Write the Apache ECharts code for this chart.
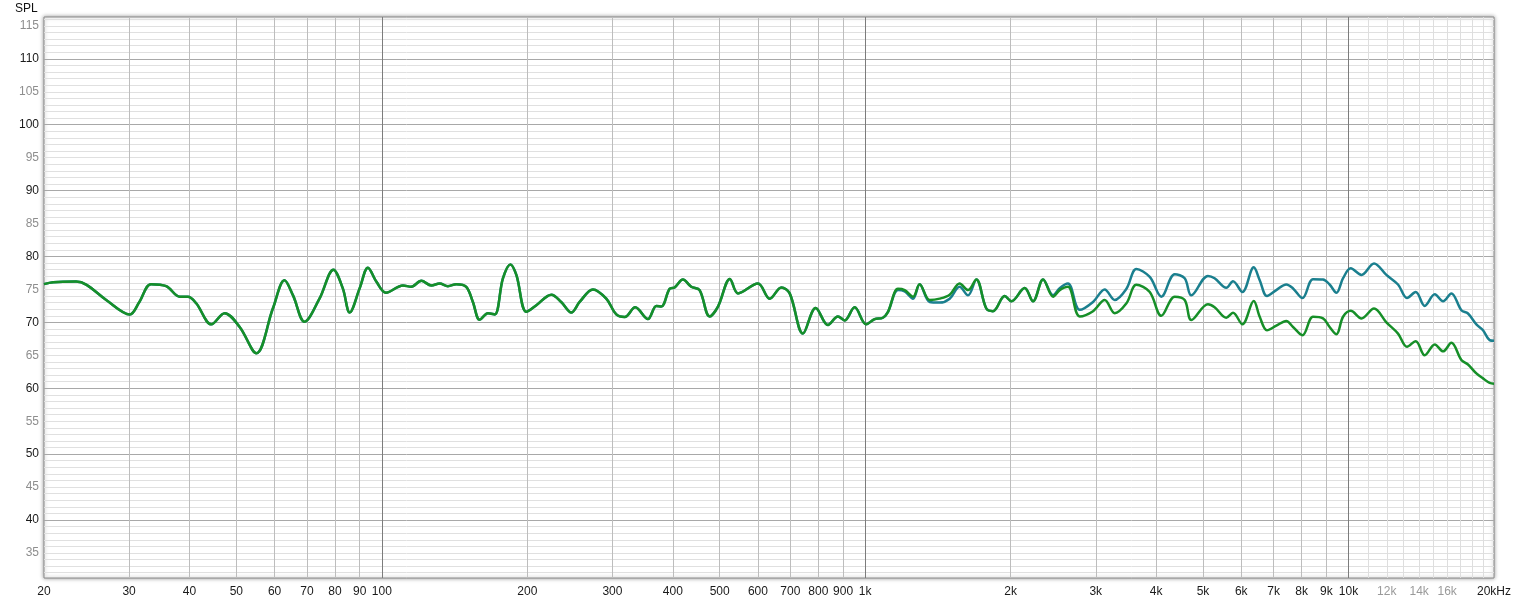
<!DOCTYPE html>
<html><head><meta charset="utf-8">
<script src="https://cdn.jsdelivr.net/npm/echarts@6/dist/echarts.min.js"></script>
<style>html,body{margin:0;padding:0;background:#fff}#c{width:1516px;height:603px}</style>
</head><body><div id="c"></div><script>
// Frequencies (Hz) of the sampled points
const freqHz = [20,20.9,23.3,24.5,26.9,30.1,31.5,33.3,35.8,38.2,39.7,41.3,44.4,47.3,50.8,55,59.5,62.9,65.5,69.2,74.3,79.4,83,85.8,90,93.6,97.4,102,110.6,115,120.7,126.6,131.7,137,142.6,149.5,154.3,159.4,165.8,171.2,178.1,184.5,189.8,199.1,208.8,224.3,235,246.6,256.6,273.4,291.3,305.6,318,334.4,355.2,369.8,378.6,394,403.4,419.7,436.7,454.4,476.6,496,525,545.6,600,634.5,671,698,743.6,790,837.5,878.4,907,951,1005,1046,1088,1115,1169,1207,1256,1296,1360,1426,1496,1568,1632,1698,1781,1838,1944,2006,2138,2225,2334,2448,2526,2628,2779,2961,3130,3284,3472,3640,3880,4100,4370,4582,4730,5119,5284,5588,5768,6032,6367,6551,6782,7090,7436,7678,8030,8444,8856,9140,9440,9744,10106,10636,11293,11977,12661,13213,13774,14380,15085,15690,16324,17120,17670,18390,18980,19590,20000];
// SPL (dB) of the upper (teal) trace
const tealSPL = [75.8,76.1,76.2,75.7,73.4,71.2,73.1,75.8,75.5,73.9,73.9,72.9,69.7,71.4,69.3,65.3,72.1,76.4,74.1,70.1,73.6,78.0,75.2,71.5,75.2,78.3,76.2,74.5,75.6,75.4,76.3,75.6,75.9,75.5,75.8,75.4,73.1,70.4,71.4,71.2,76.7,78.8,77.2,71.6,72.6,74.2,73.1,71.5,73.1,75.0,73.6,71.2,70.8,72.3,70.5,72.5,72.4,75.1,75.3,76.5,75.4,74.9,70.9,72.4,76.6,74.4,75.9,73.6,75.3,74.4,68.3,72.2,69.6,70.9,70.3,72.3,69.7,70.5,70.7,71.6,74.9,74.7,73.6,75.8,73.1,73.0,73.6,75.4,74.1,76.5,72.1,71.7,74.0,73.2,75.2,73.2,76.5,74.1,75.2,75.9,71.9,73.1,75.0,73.4,75.1,78.1,76.9,73.9,77.3,76.7,74.1,77.05,76.7,75.25,76.25,74.6,78.35,76.4,74.0,74.9,75.75,75.15,73.7,76.55,76.5,75.75,74.5,76.7,78.2,77.2,78.95,77.2,75.75,73.7,74.6,72.5,74.25,73.2,74.4,71.85,71.35,69.7,68.8,67.3,67.2];
// SPL (dB) of the lower (green) trace
const greenSPL = [75.8,76.1,76.2,75.7,73.4,71.2,73.1,75.8,75.5,73.9,73.9,72.9,69.7,71.4,69.3,65.3,72.1,76.4,74.1,70.1,73.6,78.0,75.2,71.5,75.2,78.3,76.2,74.5,75.6,75.4,76.3,75.6,75.9,75.5,75.8,75.4,73.1,70.4,71.4,71.2,76.7,78.8,77.2,71.6,72.6,74.2,73.1,71.5,73.1,75.0,73.6,71.2,70.8,72.3,70.5,72.5,72.4,75.1,75.3,76.5,75.4,74.9,70.9,72.4,76.6,74.4,75.9,73.6,75.3,74.4,68.3,72.2,69.6,70.9,70.3,72.3,69.7,70.5,70.7,71.6,75.1,74.9,73.9,75.8,73.4,73.6,74.2,75.9,74.9,76.5,72.1,71.7,74.0,73.2,75.2,73.2,76.5,73.9,74.9,75.4,70.9,71.7,73.4,71.4,72.9,75.7,74.6,71.0,73.9,73.4,70.35,72.75,72.3,70.7,71.45,69.7,73.25,70.85,68.8,69.5,70.2,69.3,68.05,70.85,70.6,69.3,68.2,70.85,71.75,70.6,72.1,70.0,68.3,66.3,67.15,65.0,66.65,65.6,66.9,64.3,63.6,62.25,61.5,60.8,60.7];

// Axis ticks
const xLabelFreqs = [20,30,40,50,60,70,80,90,100,200,300,400,500,600,700,800,900,1000,2000,3000,4000,5000,6000,7000,8000,9000,10000,12000,14000,16000,20000];
const xGrayLabels = [12000,14000,16000];
const xMinorLines = [30,40,50,60,70,80,90,200,300,400,500,600,700,800,900,2000,3000,4000,5000,6000,7000,8000,9000];
const xDecadeLines = [100,1000,10000];
const xHighLines = [11000,12000,13000,14000,15000,16000,17000,18000,19000];
const yLabels = [35,40,45,50,55,60,65,70,75,80,85,90,95,100,105,110,115];
const yMajorLines = [40,50,60,70,80,90,100,110];
const yMinorLines = [];
for (let v = 32; v <= 116; v++) if (v % 10 !== 0) yMinorLines.push(v);
const Y_MIN = 31.2, Y_MAX = 116.35;

const FONT = "'Liberation Sans', Arial, sans-serif";
const chart = echarts.init(document.getElementById('c'), null, {renderer: 'canvas'});

function fmtFreq(v) {
  v = Math.round(v);
  if (v === 20000) return '{b|20kHz}';
  const s = v >= 1000 ? (v / 1000) + 'k' : String(v);
  return xGrayLabels.indexOf(v) >= 0 ? '{g|' + s + '}' : '{b|' + s + '}';
}
function hiddenX(vals, color) {
  return {
    type: 'log', logBase: 10, min: 20, max: 20000, gridIndex: 0,
    axisLine: {show: false}, axisLabel: {show: false},
    axisTick: {show: false, customValues: vals},
    splitLine: {show: true, showMinLine: true, showMaxLine: true, lineStyle: {color: color, width: 1}}
  };
}
function hiddenY(vals, color) {
  return {
    type: 'value', min: Y_MIN, max: Y_MAX, gridIndex: 0,
    axisLine: {show: false}, axisLabel: {show: false},
    axisTick: {show: false, customValues: vals},
    splitLine: {show: true, showMinLine: true, showMaxLine: true, lineStyle: {color: color, width: 1}}
  };
}

chart.setOption({
  animation: false,
  backgroundColor: '#ffffff',
  textStyle: {fontFamily: FONT},
  grid: {
    left: 44, top: 17, right: 22, bottom: 25, outerBoundsMode: 'none',
    show: true, backgroundColor: '#ffffff', borderColor: '#8a8a8a', borderWidth: 1,
    shadowBlur: 4, shadowColor: 'rgba(0,0,0,0.4)', shadowOffsetX: 0, shadowOffsetY: 0
  },
  graphic: [{
    type: 'text', left: 15, top: 3,
    style: {text: 'SPL', fill: '#111', font: "12px 'Liberation Sans', Arial, sans-serif"}
  }],
  xAxis: [
    {
      type: 'log', logBase: 10, min: 20, max: 20000, gridIndex: 0,
      axisLine: {show: false},
      axisTick: {show: false, customValues: xMinorLines},
      axisLabel: {
        show: true, customValues: xLabelFreqs, margin: 8, fontSize: 12, fontFamily: FONT,
        formatter: fmtFreq, showMinLabel: true, showMaxLabel: true, hideOverlap: false,
        rich: {b: {color: '#1a1a1a', fontSize: 12, fontFamily: FONT}, g: {color: '#9a9a9a', fontSize: 12, fontFamily: FONT}}
      },
      splitLine: {show: true, showMinLine: true, showMaxLine: true, lineStyle: {color: '#bdbdbd', width: 1}}
    },
    hiddenX(xHighLines, '#dedede'),
    hiddenX(xDecadeLines, '#7c7c7c')
  ],
  yAxis: [
    {
      type: 'value', min: Y_MIN, max: Y_MAX, gridIndex: 0,
      axisLine: {show: false},
      axisTick: {show: false, customValues: yMinorLines},
      axisLabel: {
        show: true, customValues: yLabels, margin: 5, fontSize: 12, fontFamily: FONT,
        formatter: function (v) { v = Math.round(v); return v % 10 === 0 ? '{b|' + v + '}' : '{g|' + v + '}'; },
        rich: {b: {color: '#1a1a1a', fontSize: 12, fontFamily: FONT}, g: {color: '#8e8e8e', fontSize: 12, fontFamily: FONT}}
      },
      splitLine: {show: true, showMinLine: true, showMaxLine: true, lineStyle: {color: '#e0e0e0', width: 1}}
    },
    hiddenY(yMajorLines, '#a8a8a8')
  ],
  series: [
    {
      name: 'teal', type: 'line', xAxisIndex: 0, yAxisIndex: 0,
      data: freqHz.map((f, i) => [f, tealSPL[i]]),
      smooth: 0.35, showSymbol: false, symbol: 'none',
      lineStyle: {color: '#1a7f8e', width: 2.5}, z: 3
    },
    {
      name: 'green', type: 'line', xAxisIndex: 0, yAxisIndex: 0,
      data: freqHz.map((f, i) => [f, greenSPL[i]]),
      smooth: 0.35, showSymbol: false, symbol: 'none',
      lineStyle: {color: '#168f28', width: 2.5}, z: 4
    }
  ]
});
</script></body></html>
